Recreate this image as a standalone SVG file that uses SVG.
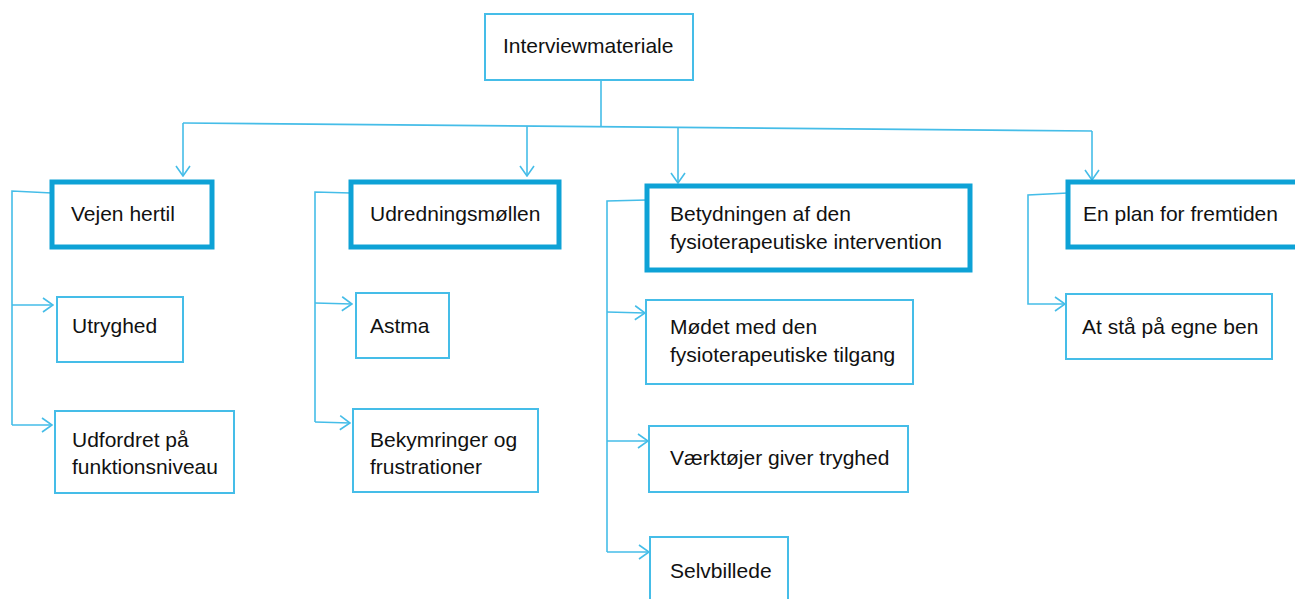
<svg xmlns="http://www.w3.org/2000/svg" width="1295" height="599" viewBox="0 0 1295 599">
<style>
.thin{fill:#fff;stroke:#45bde8;stroke-width:2}
.thick{fill:#fff;stroke:#0ea2d6;stroke-width:5}
.c{fill:none;stroke:#45bde8;stroke-width:1.6}
text{font-family:"Liberation Sans",Arial,sans-serif;font-size:21px;fill:#111}
</style>
<defs>
<marker id="ah" viewBox="0 0 12 16" refX="11" refY="8" markerWidth="12" markerHeight="16" markerUnits="userSpaceOnUse" orient="auto">
<path d="M1,1 L11,8 L1,15" fill="none" stroke="#45bde8" stroke-width="1.6"/>
</marker>
</defs>
<g id="connectors">
<path class="c" d="M601,80 V127"/>
<path class="c" d="M183,123 L1092,131"/>
<path class="c" d="M183,123 V176" marker-end="url(#ah)"/>
<path class="c" d="M527,126 V176" marker-end="url(#ah)"/>
<path class="c" d="M678,127 V183" marker-end="url(#ah)"/>
<path class="c" d="M1092,131 V180" marker-end="url(#ah)"/>
<path class="c" d="M52,193 L12,191 V425"/>
<path class="c" d="M12,305 H53" marker-end="url(#ah)"/>
<path class="c" d="M12,425 H52" marker-end="url(#ah)"/>
<path class="c" d="M351,193 L315,192 V422"/>
<path class="c" d="M315,303 L352,304" marker-end="url(#ah)"/>
<path class="c" d="M315,422 L350,423" marker-end="url(#ah)"/>
<path class="c" d="M647,200 L607,201 V552"/>
<path class="c" d="M607,312 L645,313" marker-end="url(#ah)"/>
<path class="c" d="M607,441 H648" marker-end="url(#ah)"/>
<path class="c" d="M607,552 H649" marker-end="url(#ah)"/>
<path class="c" d="M1068,193 L1028,195 V304 H1065" marker-end="url(#ah)"/>
</g>
<g id="root"><rect class="thin" x="485" y="14" width="208" height="66"/><text x="503" y="53">Interviewmateriale</text></g>
<g id="vejen"><rect class="thick" x="52" y="182" width="160" height="65"/><text x="71" y="221">Vejen hertil</text></g>
<g id="udredning"><rect class="thick" x="351" y="182" width="208" height="65"/><text x="370" y="221">Udredningsmøllen</text></g>
<g id="betydning"><rect class="thick" x="647" y="186" width="323" height="84"/><text x="670" y="221">Betydningen af den</text><text x="670" y="249">fysioterapeutiske intervention</text></g>
<g id="plan"><rect class="thick" x="1068" y="182" width="232" height="65"/><text x="1083" y="221">En plan for fremtiden</text></g>
<g id="utryghed"><rect class="thin" x="57" y="297" width="126" height="65"/><text x="72" y="333">Utryghed</text></g>
<g id="udfordret"><rect class="thin" x="55" y="411" width="179" height="82"/><text x="72" y="447">Udfordret på</text><text x="72" y="474">funktionsniveau</text></g>
<g id="astma"><rect class="thin" x="356" y="293" width="93" height="65"/><text x="370" y="333">Astma</text></g>
<g id="bekymring"><rect class="thin" x="353" y="409" width="185" height="83"/><text x="370" y="447">Bekymringer og</text><text x="370" y="474">frustrationer</text></g>
<g id="modet"><rect class="thin" x="646" y="300" width="267" height="84"/><text x="670" y="334">Mødet med den</text><text x="670" y="362">fysioterapeutiske tilgang</text></g>
<g id="vaerktoj"><rect class="thin" x="649" y="426" width="259" height="66"/><text x="670" y="465">Værktøjer giver tryghed</text></g>
<g id="selvbillede"><rect class="thin" x="650" y="537" width="138" height="70"/><text x="670" y="578">Selvbillede</text></g>
<g id="atsta"><rect class="thin" x="1066" y="294" width="206" height="65"/><text x="1082" y="334">At stå på egne ben</text></g>
</svg>
